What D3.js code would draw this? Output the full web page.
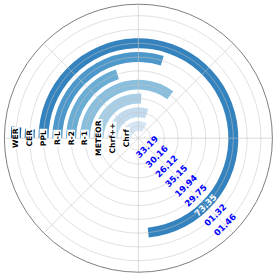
<!DOCTYPE html>
<html>
<head>
<meta charset="utf-8">
<script src="https://cdn.jsdelivr.net/npm/d3@7"></script>
<style>
html,body{margin:0;padding:0;background:#fff;}
svg{display:block;}
</style>
</head>
<body>
<svg id="chart" width="277" height="277"></svg>
<script>
// categories, inner -> outer
const categories = ["Chrf", "Chrf++", "METEOR", "R-1", "R-2", "R-L", "PPL", "CER", "WER"];
// values (percent of full circle)
const values = [33.19, 30.16, 26.12, 35.15, 19.94, 29.75, 73.35, 1.32, 1.46];
// angular gridlines (degrees)
const thetaTicks = [0, 45, 90, 135, 180, 225, 270, 315];
// value label angle (percent of circle, measured like the bars)
const labelAt = 62.5;

const W = 277, H = 277;
const cx = 138.4, cy = 138.2, R = 134;
const svg = d3.select("#chart");
const g = svg.append("g").attr("transform", `translate(${cx},${cy})`);

const idx = categories.map((d, i) => i);
const rScale = d3.scaleLinear().domain([-0.88, 8.83]).range([0, R]);
// value -> angle; 0 at west (9 o'clock), clockwise
const aScale = d3.scaleLinear().domain([0, 100]).range([-Math.PI / 2, 1.5 * Math.PI]);
const colorT = d3.scaleLinear().domain([0, categories.length - 1]).range([0.17, 0.85]);
const color = i => d3.interpolateBlues(colorT(i));
const half = 0.36;

const arc = d3.arc();

// bars
g.selectAll("path.bar").data(idx).join("path")
  .attr("class", "bar")
  .attr("d", i => arc({
    innerRadius: rScale(i - half),
    outerRadius: rScale(i + half),
    startAngle: aScale(0),
    endAngle: aScale(values[i])
  }))
  .attr("fill", i => color(i));

// grid: circles at category positions
g.selectAll("circle.grid").data(idx).join("circle")
  .attr("class", "grid")
  .attr("r", i => rScale(i))
  .attr("fill", "none")
  .attr("stroke", "#c4c4c4")
  .attr("stroke-opacity", 0.65)
  .attr("stroke-width", 0.8);

// radial grid lines
g.selectAll("line.tgrid").data(thetaTicks).join("line")
  .attr("class", "tgrid")
  .attr("x1", 0).attr("y1", 0)
  .attr("x2", d => R * Math.cos(d * Math.PI / 180))
  .attr("y2", d => -R * Math.sin(d * Math.PI / 180))
  .attr("stroke", "#c4c4c4")
  .attr("stroke-opacity", 0.75)
  .attr("stroke-width", 0.8);

// outer spine
g.append("circle").attr("r", R).attr("fill", "none")
  .attr("stroke", "#707070").attr("stroke-width", 0.9);

// category labels with white boxes
const fs = 7.6;
const catG = g.selectAll("g.cat").data(idx).join("g")
  .attr("class", "cat")
  .attr("transform", i => `translate(${-rScale(i)},0) rotate(-90)`);
catG.append("text")
  .attr("text-anchor", "middle")
  .attr("dominant-baseline", "central")
  .attr("font-family", "DejaVu Sans")
  .attr("font-weight", "bold")
  .attr("font-size", fs)
  .attr("fill", "#000")
  .text(i => categories[i]);
catG.each(function() {
  const t = d3.select(this).select("text");
  const b = t.node().getBBox();
  d3.select(this).insert("rect", "text")
    .attr("x", b.x - 1.3).attr("y", b.y + 0.6)
    .attr("width", b.width + 2.6).attr("height", b.height - 1.2)
    .attr("fill", "#fff");
});

// value labels
const fmt = d3.format("05.2f");
const la = aScale(labelAt);
g.selectAll("text.val").data(idx).join("text")
  .attr("class", "val")
  .attr("transform", i => {
    const r = rScale(i);
    return `translate(${r * Math.sin(la)},${-r * Math.cos(la)}) rotate(-45)`;
  })
  .attr("text-anchor", "middle")
  .attr("dominant-baseline", "central")
  .attr("font-family", "DejaVu Sans")
  .attr("font-weight", "bold")
  .attr("font-size", 8.6)
  .attr("fill", i => values[i] > labelAt ? "#ffffff" : "#0000ff")
  .text(i => fmt(values[i]));
</script>
</body>
</html>
